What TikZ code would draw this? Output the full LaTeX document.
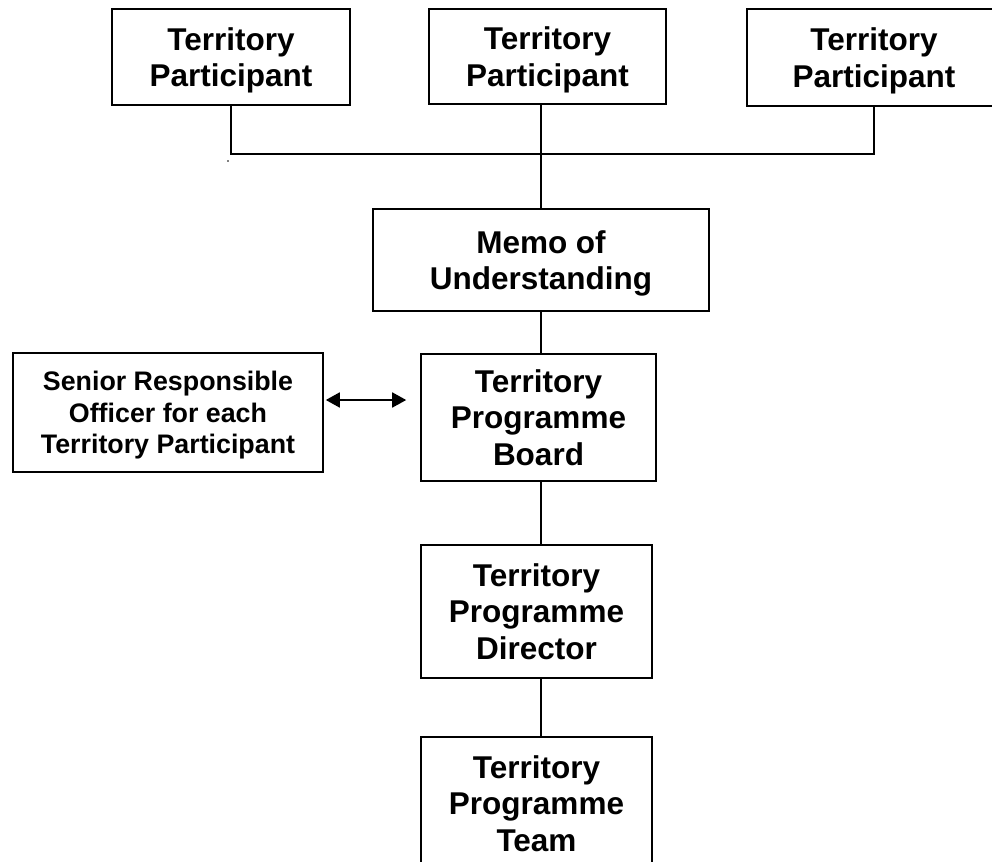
\documentclass[tikz,border=0pt]{standalone}
\usepackage{fontspec}
\setmainfont{Liberation Sans}
\usetikzlibrary{arrows.meta}
\begin{document}
\begin{tikzpicture}[x=1pt,y=-1pt,
  box/.style={draw=black, line width=1.6pt, rectangle, inner sep=0pt, align=center,
    text depth=0pt, font=\bfseries\fontsize{31.5}{36.7}\selectfont},
  smallbox/.style={box, font=\bfseries\fontsize{26.8}{31.5}\selectfont},
  link/.style={line width=1.6pt},
  twoway/.style={line width=1.8pt, {Triangle[length=14pt,width=15pt]}-{Triangle[length=14pt,width=15pt]}}
]
\useasboundingbox (0,0) rectangle (992,861);
\fill[white] (0,0) rectangle (992,861);
\clip (0,0) rectangle (992,861);

\node[box, minimum width=238pt, minimum height=96pt]  (tp1)  at (231,57)     {Territory\\Participant};
\node[box, minimum width=237pt, minimum height=95pt]  (tp2)  at (547.5,56.5) {Territory\\Participant};
\node[box, minimum width=254pt, minimum height=97pt]  (tp3)  at (874,57.5)   {Territory\\Participant};
\node[box, minimum width=336pt, minimum height=102pt] (memo) at (541,260)    {Memo of\\Understanding};
\node[smallbox, minimum width=310pt, minimum height=119pt] (sro) at (168,412.5) {Senior Responsible\\Officer for each\\Territory Participant};
\node[box, minimum width=235pt, minimum height=127pt] (tpb)  at (538.5,417.5) {Territory\\Programme\\Board};
\node[box, minimum width=231pt, minimum height=133pt] (dir)  at (536.5,611.5) {Territory\\Programme\\Director};
\node[box, minimum width=231pt, minimum height=133pt] (team) at (536.5,803.5) {Territory\\Programme\\Team};

\coordinate (bus) at (541,154);
\coordinate (arrowrow) at (0,400);

\draw[link] (tp1.south) |- (bus) -| (tp3.south);
\draw[link] (tp2.south -| memo.north) -- (memo.north);
\draw[link] (memo.south) -- (memo.south |- tpb.north);
\draw[link] (memo.south |- tpb.south) -- (memo.south |- dir.north);
\draw[link] (memo.south |- dir.south) -- (memo.south |- team.north);
\draw[twoway, shorten <=2pt, shorten >=14pt] (sro.east |- arrowrow) -- (tpb.west |- arrowrow);

\fill (228,161) circle (0.8pt);
\end{tikzpicture}
\end{document}
